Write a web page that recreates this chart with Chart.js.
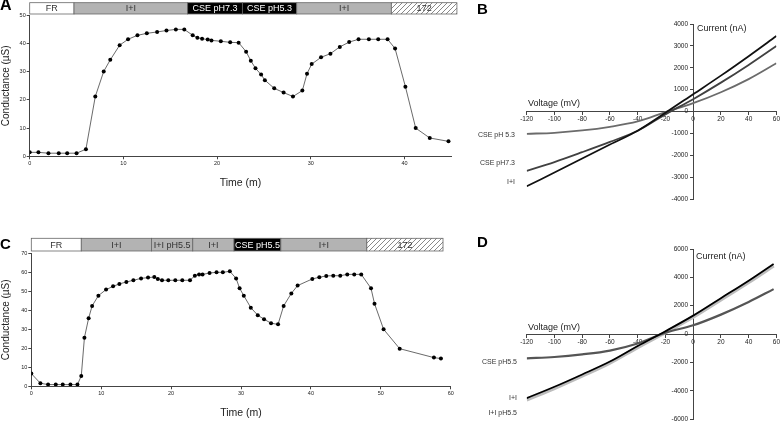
<!DOCTYPE html>
<html>
<head>
<meta charset="utf-8">
<script src="https://cdn.jsdelivr.net/npm/chart.js@4.4.0/dist/chart.umd.min.js"></script>
<style>
  body { margin: 0; background: #fff; width: 781px; height: 426px; position: relative; overflow: hidden;
         font-family: 'Liberation Sans', Arial, sans-serif; }
  canvas { position: absolute; }
  .lbl { position: absolute; font-size: 7px; line-height: 7px; color: #333; white-space: nowrap; }
  .axt { position: absolute; font-size: 9px; line-height: 9px; color: #222; white-space: nowrap; }
  .letter { position: absolute; font-weight: bold; font-size: 15px; line-height: 15px; color: #000; }
</style>
</head>
<body>
<canvas id="chartA" width="460" height="215" style="left:0;top:0"></canvas>
<canvas id="chartB" width="321" height="215" style="left:460px;top:0"></canvas>
<canvas id="chartC" width="460" height="201" style="left:0;top:225px"></canvas>
<canvas id="chartD" width="321" height="201" style="left:460px;top:225px"></canvas>

<div class="letter" style="left:0;top:-3px;font-size:16px;line-height:16px">A</div>
<div class="letter" style="left:477px;top:1px">B</div>
<div class="letter" style="left:0;top:236px">C</div>
<div class="letter" style="left:477px;top:234px">D</div>

<div class="axt" style="left:528px;top:99px">Voltage (mV)</div>
<div class="axt" style="left:697px;top:24px">Current (nA)</div>
<div class="lbl" style="right:266px;top:131px">CSE pH 5.3</div>
<div class="lbl" style="right:266px;top:159px">CSE pH7.3</div>
<div class="lbl" style="right:266px;top:178px">I+I</div>

<div class="axt" style="left:528px;top:323px">Voltage (mV)</div>
<div class="axt" style="left:696px;top:252px">Current (nA)</div>
<div class="lbl" style="right:264px;top:358px">CSE pH5.5</div>
<div class="lbl" style="right:264px;top:394px">I+I</div>
<div class="lbl" style="right:264px;top:409px">I+I pH5.5</div>

<script>
// Panel A: conductance vs time
const timeA = [0, 0.93, 2.0, 3.1, 4.0, 5.0, 6.0, 7.0, 7.9, 8.6, 9.6, 10.5, 11.5, 12.5, 13.6, 14.6, 15.6, 16.5,
  17.4, 17.9, 18.4, 19.0, 19.4, 20.4, 21.4, 22.3, 23.1, 23.6, 24.1, 24.7, 25.1, 26.1, 27.1, 28.1, 29.1, 29.6,
  30.1, 31.1, 32.1, 33.1, 34.1, 35.1, 36.2, 37.2, 38.2, 39.0, 40.1, 41.2, 42.7, 44.7];
const condA = [1.4, 1.4, 1.1, 1.1, 1.1, 1.1, 2.5, 21.2, 30.1, 34.2, 39.4, 41.5, 42.9, 43.6, 44.1, 44.6, 45.0, 45.0,
  42.9, 42.0, 41.7, 41.4, 41.1, 40.8, 40.4, 40.3, 37.1, 33.9, 31.2, 29.0, 27.0, 24.1, 22.6, 21.2, 23.3, 29.3,
  32.7, 35.1, 36.4, 38.8, 40.5, 41.5, 41.5, 41.5, 41.5, 38.2, 24.7, 10.0, 6.5, 5.3];
const phasesA = ['FR', 'I+I', 'CSE pH7.3', 'CSE pH5.3', 'I+I', '172'];
const phaseEdgesA = [0, 4.73, 16.86, 22.7, 28.5, 38.6, 45.6];
const xTicksA = [0, 10, 20, 30, 40];

// Panel C: conductance vs time
const timeC = [0, 1.3, 2.4, 3.5, 4.5, 5.6, 6.6, 7.15, 7.6, 8.2, 8.7, 9.6, 10.7, 11.7, 12.6, 13.6, 14.6, 15.7,
  16.7, 17.6, 18.1, 18.7, 19.6, 20.6, 21.6, 22.7, 23.4, 24.0, 24.5, 25.5, 26.5, 27.4, 28.4, 29.3, 29.8, 30.4,
  31.4, 32.4, 33.3, 34.3, 35.3, 36.1, 37.2, 38.1, 40.2, 41.2, 42.2, 43.2, 44.2, 45.2, 46.2, 47.2, 48.6, 49.1,
  50.4, 52.7, 57.6, 58.6];
const condC = [6.7, 1.6, 0.9, 0.9, 0.9, 0.9, 0.9, 5.4, 25.6, 35.8, 42.3, 47.7, 50.9, 52.6, 53.9, 54.9, 55.8, 56.8,
  57.2, 57.5, 56.5, 55.8, 55.8, 55.8, 55.8, 55.8, 58.2, 58.9, 58.9, 59.6, 60.0, 60.0, 60.5, 56.8, 51.6, 47.7,
  41.4, 37.4, 35.3, 33.2, 32.6, 42.3, 48.9, 53.0, 56.5, 57.4, 58.1, 58.2, 58.2, 58.9, 58.9, 58.9, 51.6, 43.5,
  30.0, 19.8, 15.1, 14.6];
const phasesC = ['FR', 'I+I', 'I+I pH5.5', 'I+I', 'CSE pH5.5', 'I+I', '172'];
const phaseEdgesC = [0, 7.15, 17.2, 23.1, 29.0, 35.7, 48.0, 58.9];
const xTicksC = [0, 10, 20, 30, 40, 50, 60];

// Panel B: I-V curves
const voltB = [-120, -100, -80, -60, -40, -20, 0, 20, 40, 60];
const curIIB = [-3420, -2790, -2150, -1510, -880, -60, 790, 1640, 2530, 3450];
const curCse73 = [-2710, -2310, -1860, -1390, -880, -130, 563, 1320, 2130, 2996];
const curCse53 = [-1020, -973, -867, -700, -456, -30, 380, 880, 1480, 2205];

// Panel D: I-V curves
const voltD = [-120, -100, -80, -60, -40, -20, 0, 20, 40, 58];
const curIID = [-4517, -3720, -2850, -1940, -844, 200, 1300, 2530, 3765, 4950];
const curIIpH55 = [-4650, -3830, -2960, -2040, -940, 110, 1200, 2420, 3650, 4820];
const curCse55 = [-1711, -1620, -1437, -1164, -662, 90, 616, 1370, 2260, 3170];

Chart.defaults.font.family = "'Liberation Sans', Arial, sans-serif";
Chart.defaults.color = '#222';
Chart.defaults.animation = false;

// diagonal hatch for the 172 segment
function hatchPattern(ctx) {
  const c = document.createElement('canvas');
  c.width = 5; c.height = 5;
  const p = c.getContext('2d');
  p.fillStyle = '#fff';
  p.fillRect(0, 0, 5, 5);
  p.strokeStyle = '#555';
  p.lineWidth = 0.7;
  p.beginPath();
  p.moveTo(0, 5); p.lineTo(5, 0);
  p.moveTo(-1, 1); p.lineTo(1, -1);
  p.moveTo(4, 6); p.lineTo(6, 4);
  p.stroke();
  return ctx.createPattern(c, 'repeat');
}

function phaseFill(ctx, name) {
  if (name === 'FR') return '#fff';
  if (name.startsWith('CSE')) return '#000';
  if (name === '172') return hatchPattern(ctx);
  return '#b3b3b3';
}

// condition strip drawn above the plot along the time axis
const phaseBar = {
  id: 'phaseBar',
  afterDraw(chart, args, opts) {
    if (!opts.names) return;
    const { ctx } = chart;
    const x = chart.scales.x;
    ctx.save();
    opts.names.forEach((name, i) => {
      const x0 = x.getPixelForValue(opts.edges[i]);
      const x1 = x.getPixelForValue(opts.edges[i + 1]);
      ctx.fillStyle = phaseFill(ctx, name);
      ctx.fillRect(x0, opts.top, x1 - x0, opts.height);
      ctx.strokeStyle = '#666';
      ctx.lineWidth = 0.8;
      ctx.strokeRect(x0, opts.top, x1 - x0, opts.height);
      ctx.font = "9px 'Liberation Sans', Arial, sans-serif";
      ctx.textAlign = 'center';
      ctx.textBaseline = 'middle';
      ctx.fillStyle = name.startsWith('CSE') ? '#fff' : '#333';
      ctx.fillText(name, (x0 + x1) / 2, opts.top + opts.height / 2 + 0.5);
    });
    ctx.restore();
  }
};
Chart.register(phaseBar);

function timeChart(id, time, values, xMax, xTicks, yMax, box, bar) {
  new Chart(document.getElementById(id), {
    type: 'line',
    data: {
      datasets: [{
        data: time.map((t, i) => ({ x: t, y: values[i] })),
        borderColor: '#444',
        borderWidth: 0.8,
        pointRadius: 2,
        pointBackgroundColor: '#000',
        pointBorderWidth: 0,
        tension: 0
      }]
    },
    options: {
      responsive: false,
      layout: { padding: { left: 0, top: box.top, right: box.right, bottom: 0 } },
      plugins: { legend: { display: false }, tooltip: { enabled: false }, phaseBar: bar },
      scales: {
        x: {
          type: 'linear', min: 0, max: xMax,
          afterBuildTicks: s => { s.ticks = xTicks.map(v => ({ value: v })); },
          afterFit: s => { s.height = box.xh; },
          ticks: { font: { size: 5.5 }, padding: 1, maxRotation: 0 },
          grid: { drawOnChartArea: false, tickLength: 3, color: '#444' },
          border: { color: '#444' },
          title: { display: true, text: 'Time (m)', font: { size: 10.5 }, padding: { top: 0, bottom: box.tpad } }
        },
        y: {
          min: 0, max: yMax,
          ticks: { stepSize: 10, font: { size: 5.5 }, padding: 1 },
          afterFit: s => { s.width = box.left; },
          grid: { drawOnChartArea: false, tickLength: 3, color: '#444' },
          border: { color: '#444' },
          title: { display: true, text: 'Conductance (\u00b5S)', font: { size: 10 }, padding: { top: 0, bottom: 0 } }
        }
      }
    }
  });
}

timeChart('chartA', timeA, condA, 45, xTicksA, 50,
  { left: 29.7, top: 15.3, right: 8.7, xh: 58.7, tpad: 26 },
  { names: phasesA, edges: phaseEdgesA, top: 2.7, height: 11.3 });
timeChart('chartC', timeC, condC, 60, xTicksC, 70,
  { left: 31.3, top: 28.3, right: 9.3, xh: 39.7, tpad: 6.4 },
  { names: phasesC, edges: phaseEdgesC, top: 13.3, height: 12.7 });

function ivChart(id, series, yLim, yStep, padBottom) {
  new Chart(document.getElementById(id), {
    type: 'line',
    data: {
      datasets: series.map(s => ({
        data: s.volt.map((v, i) => ({ x: v, y: s.cur[i] })),
        borderColor: s.color,
        borderWidth: s.width,
        pointRadius: 0,
        tension: 0.35,
        order: s.order
      }))
    },
    options: {
      responsive: false,
      layout: { padding: { left: 66.7, top: 24, right: 4.3, bottom: padBottom } },
      plugins: { legend: { display: false }, tooltip: { enabled: false } },
      scales: {
        x: {
          type: 'linear', min: -120, max: 60, position: { y: 0 },
          ticks: { stepSize: 20, font: { size: 6.5 }, padding: 1, maxRotation: 0, callback: v => String(v) },
          grid: { drawOnChartArea: false, tickLength: 3, color: '#444' },
          border: { color: '#444' }
        },
        y: {
          min: -yLim, max: yLim, position: { x: 0 },
          // labels of a value-positioned axis sit on the line, so pad them with trailing spaces
          ticks: { stepSize: yStep, font: { size: 6.5 }, callback: v => String(v) + '\u2002 ' },
          grid: { drawOnChartArea: false, tickLength: 3, color: '#444' },
          border: { color: '#444' }
        }
      }
    }
  });
}

ivChart('chartB', [
  { volt: voltB, cur: curCse53, color: '#6b6b6b', width: 1.8, order: 3 },
  { volt: voltB, cur: curCse73, color: '#414141', width: 1.8, order: 2 },
  { volt: voltB, cur: curIIB, color: '#111', width: 1.8, order: 1 }
], 4000, 1000, 16);

ivChart('chartD', [
  { volt: voltD, cur: curIIpH55, color: '#bdbdbd', width: 3.5, order: 3 },
  { volt: voltD, cur: curCse55, color: '#555', width: 2.2, order: 2 },
  { volt: voltD, cur: curIID, color: '#000', width: 1.8, order: 1 }
], 6000, 2000, 2);
</script>
</body>
</html>
